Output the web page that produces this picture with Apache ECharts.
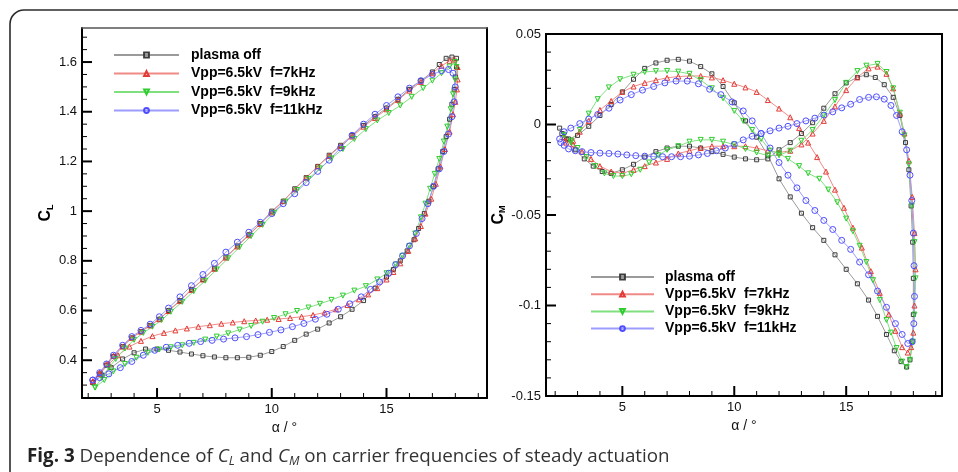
<!DOCTYPE html>
<html>
<head>
<meta charset="utf-8">
<script src="https://cdn.jsdelivr.net/npm/echarts@6/dist/echarts.min.js"></script>
<style>
	html, body { margin: 0; padding: 0; background: #fff; }
	#chart { width: 958px; height: 472px; }
</style>
</head>
<body>
<div id="chart"></div>
<script>
	'use strict';

	var seriesNames = ['plasma off', 'Vpp=6.5kV  f=7kHz', 'Vpp=6.5kV  f=9kHz', 'Vpp=6.5kV  f=11kHz'];

	/* ticks */
	var alphaMajor = [5, 10, 15];
	var alphaMinor = [2, 3, 4, 6, 7, 8, 9, 11, 12, 13, 14, 16, 17, 18, 19];
	var clMajor = [0.4, 0.6, 0.8, 1, 1.2, 1.4, 1.6];
	var clMinor = [0.25, 0.3, 0.35, 0.45, 0.5, 0.55, 0.65, 0.7, 0.75, 0.85, 0.9, 0.95, 1.05, 1.1, 1.15, 1.25, 1.3, 1.35, 1.45, 1.5, 1.55, 1.65, 1.7];
	var cmMajor = [-0.15, -0.1, -0.05, 0, 0.05];
	var cmMinor = [-0.14, -0.13, -0.12, -0.11, -0.09, -0.08, -0.07, -0.06, -0.04, -0.03, -0.02, -0.01, 0.01, 0.02, 0.03, 0.04];

	/* CL loops [alpha, CL] */
	var clOff = [[2.2,0.31],[2.5,0.345],[2.8,0.38],[3.1,0.415],[3.5,0.455],[3.9,0.49],[4.3,0.515],[4.7,0.54],[5.1,0.565],[5.5,0.6],[6.0,0.64],[6.5,0.685],[7.0,0.725],[7.5,0.77],[8.0,0.815],[8.5,0.86],[9.0,0.905],[9.5,0.95],[10.0,1.0],[10.5,1.04],[11.0,1.09],[11.5,1.135],[12.0,1.18],[12.5,1.225],[13.0,1.265],[13.5,1.305],[14.0,1.345],[14.5,1.38],[15.0,1.415],[15.5,1.45],[16.0,1.49],[16.5,1.525],[17.0,1.56],[17.3,1.59],[17.6,1.615],[17.85,1.62],[18.05,1.615],
		[18.05,1.58],[18.0,1.54],[17.95,1.49],[17.85,1.43],[17.75,1.37],[17.6,1.3],[17.45,1.24],[17.25,1.17],[17.05,1.1],[16.85,1.04],[16.65,0.99],[16.4,0.93],[16.2,0.885],[15.9,0.84],[15.6,0.8],[15.3,0.765],[15.0,0.735],[14.5,0.69],[14.0,0.64],[13.5,0.605],[13.0,0.575],[12.5,0.55],[12.0,0.525],[11.5,0.505],[11.0,0.48],[10.5,0.455],[10.0,0.435],[9.5,0.42],[9.0,0.412],[8.5,0.41],[8.0,0.41],[7.5,0.413],[7.0,0.418],[6.5,0.425],[6.0,0.433],[5.5,0.44],[5.0,0.445],[4.5,0.445],[4.0,0.43],[3.5,0.405],[3.0,0.37],[2.6,0.34],[2.2,0.31]];
	var clF7 = [[2.2,0.315],[2.5,0.35],[2.8,0.385],[3.1,0.418],[3.5,0.455],[3.9,0.49],[4.3,0.515],[4.7,0.54],[5.1,0.565],[5.5,0.598],[6.0,0.638],[6.5,0.683],[7.0,0.725],[7.5,0.768],[8.0,0.813],[8.5,0.858],[9.0,0.903],[9.5,0.948],[10.0,0.995],[10.5,1.04],[11.0,1.088],[11.5,1.135],[12.0,1.18],[12.5,1.222],[13.0,1.262],[13.5,1.3],[14.0,1.34],[14.5,1.375],[15.0,1.41],[15.5,1.447],[16.0,1.485],[16.5,1.52],[17.0,1.555],[17.4,1.585],[17.75,1.605],[17.95,1.61],[18.1,1.58],
		[18.1,1.53],[18.07,1.49],[18.0,1.44],[17.9,1.39],[17.75,1.32],[17.55,1.25],[17.35,1.18],[17.15,1.11],[16.95,1.05],[16.7,0.99],[16.5,0.94],[16.25,0.89],[15.95,0.84],[15.6,0.79],[15.3,0.755],[15.0,0.725],[14.6,0.69],[14.2,0.665],[13.8,0.645],[13.3,0.622],[12.8,0.605],[12.3,0.592],[11.8,0.582],[11.3,0.575],[10.8,0.57],[10.3,0.566],[9.8,0.563],[9.3,0.56],[8.8,0.557],[8.3,0.552],[7.8,0.547],[7.3,0.541],[6.8,0.535],[6.3,0.528],[5.8,0.52],[5.3,0.51],[4.8,0.497],[4.3,0.478],[3.8,0.455],[3.3,0.42],[2.9,0.385],[2.5,0.345],[2.2,0.315]];
	var clF9 = [[2.3,0.29],[2.6,0.33],[2.9,0.37],[3.2,0.405],[3.6,0.447],[4.0,0.482],[4.4,0.51],[4.8,0.535],[5.2,0.562],[5.6,0.595],[6.1,0.635],[6.6,0.678],[7.1,0.72],[7.6,0.765],[8.1,0.81],[8.6,0.855],[9.1,0.9],[9.6,0.945],[10.1,0.992],[10.6,1.038],[11.1,1.085],[11.6,1.13],[12.1,1.172],[12.6,1.212],[13.1,1.25],[13.6,1.29],[14.1,1.33],[14.6,1.365],[15.1,1.395],[15.6,1.425],[16.1,1.46],[16.6,1.495],[17.0,1.525],[17.4,1.555],[17.75,1.582],[18.0,1.6],
		[18.05,1.58],[18.0,1.53],[17.9,1.47],[17.8,1.41],[17.65,1.34],[17.5,1.28],[17.3,1.21],[17.1,1.15],[16.9,1.09],[16.7,1.03],[16.5,0.975],[16.25,0.91],[16.0,0.86],[15.7,0.82],[15.4,0.785],[15.0,0.75],[14.6,0.725],[14.1,0.698],[13.6,0.68],[13.1,0.66],[12.6,0.643],[12.1,0.627],[11.6,0.612],[11.1,0.598],[10.6,0.585],[10.1,0.57],[9.6,0.555],[9.1,0.538],[8.6,0.523],[8.1,0.508],[7.6,0.495],[7.1,0.483],[6.6,0.47],[6.1,0.46],[5.6,0.452],[5.1,0.443],[4.6,0.43],[4.1,0.41],[3.6,0.385],[3.1,0.355],[2.7,0.32],[2.3,0.29]];
	var clF11 = [[2.2,0.32],[2.5,0.35],[2.8,0.385],[3.1,0.42],[3.5,0.46],[3.9,0.495],[4.3,0.52],[4.7,0.545],[5.1,0.575],[5.5,0.61],[6.0,0.655],[6.5,0.7],[7.0,0.745],[7.5,0.79],[8.0,0.835],[8.5,0.875],[9.0,0.915],[9.5,0.955],[10.0,0.99],[10.5,1.03],[11.0,1.07],[11.5,1.115],[12.0,1.16],[12.5,1.205],[13.0,1.255],[13.5,1.305],[14.0,1.35],[14.5,1.39],[15.0,1.425],[15.5,1.46],[16.0,1.495],[16.5,1.525],[17.0,1.55],[17.4,1.565],[17.7,1.57],[17.9,1.555],
		[18.0,1.5],[17.95,1.44],[17.85,1.38],[17.7,1.31],[17.5,1.24],[17.3,1.17],[17.05,1.1],[16.8,1.03],[16.55,0.97],[16.3,0.91],[16.0,0.86],[15.7,0.82],[15.4,0.785],[15.1,0.75],[14.7,0.715],[14.3,0.685],[13.9,0.655],[13.4,0.627],[12.9,0.605],[12.4,0.585],[11.9,0.565],[11.4,0.548],[10.9,0.535],[10.4,0.522],[9.9,0.512],[9.4,0.503],[8.9,0.495],[8.4,0.49],[7.9,0.485],[7.4,0.48],[6.9,0.475],[6.4,0.468],[5.9,0.46],[5.4,0.452],[4.9,0.44],[4.4,0.42],[3.9,0.395],[3.4,0.37],[2.9,0.345],[2.5,0.33],[2.2,0.32]];

	/* CM loops [alpha, CM] */
	var cmOff = [[2.2,-0.002],[2.5,-0.008],[2.9,-0.014],[3.3,-0.019],[3.7,-0.023],[4.1,-0.026],[4.5,-0.027],[5.0,-0.025],[5.5,-0.022],[6.0,-0.018],[6.5,-0.015],[7.0,-0.013],[7.5,-0.012],[8.0,-0.012],[8.5,-0.013],[9.0,-0.015],[9.5,-0.0165],[10.0,-0.018],[10.5,-0.019],[11.0,-0.0195],[11.5,-0.019],[12.0,-0.014],[12.5,-0.01],[13.0,-0.005],[13.5,0.001],[14.0,0.009],[14.5,0.017],[15.0,0.023],[15.5,0.026],[15.9,0.0275],[16.3,0.026],[16.7,0.022],[17.1,0.015],[17.4,0.005],[17.65,-0.01],[17.8,-0.025],[17.9,-0.045],[17.97,-0.065],[18.0,-0.085],[18.0,-0.105],[17.95,-0.12],[17.85,-0.13],[17.7,-0.134],
		[17.45,-0.131],[17.15,-0.125],[16.8,-0.116],[16.4,-0.106],[16.0,-0.097],[15.5,-0.088],[15.0,-0.08],[14.5,-0.072],[14.0,-0.064],[13.5,-0.057],[13.0,-0.049],[12.5,-0.04],[12.0,-0.03],[11.5,-0.017],[11.0,-0.007],[10.5,0.002],[10.0,0.012],[9.5,0.021],[9.0,0.028],[8.5,0.032],[8.0,0.035],[7.5,0.036],[7.0,0.0355],[6.5,0.034],[6.0,0.031],[5.5,0.025],[5.0,0.018],[4.5,0.011],[4.0,0.005],[3.5,-0.001],[3.0,-0.006],[2.6,-0.008],[2.3,-0.005]];
	var cmF7 = [[2.4,-0.007],[2.8,-0.011],[3.2,-0.015],[3.6,-0.019],[4.0,-0.023],[4.5,-0.026],[5.0,-0.027],[5.5,-0.025],[6.0,-0.023],[6.5,-0.021],[7.0,-0.019],[7.5,-0.016],[8.0,-0.0145],[8.5,-0.013],[9.0,-0.012],[9.5,-0.012],[10.0,-0.012],[10.5,-0.012],[11.0,-0.013],[11.5,-0.0145],[12.0,-0.0155],[12.5,-0.0145],[13.0,-0.011],[13.5,-0.005],[14.0,0.002],[14.5,0.01],[15.0,0.019],[15.5,0.026],[16.0,0.031],[16.4,0.032],[16.8,0.028],[17.1,0.02],[17.4,0.006],[17.6,-0.005],[17.8,-0.02],[17.95,-0.04],[18.05,-0.06],[18.1,-0.08],[18.05,-0.1],[18.0,-0.115],[17.9,-0.123],[17.75,-0.126],
		[17.5,-0.123],[17.2,-0.114],[16.9,-0.105],[16.5,-0.093],[16.1,-0.081],[15.7,-0.068],[15.3,-0.057],[14.9,-0.046],[14.5,-0.036],[14.1,-0.026],[13.7,-0.018],[13.3,-0.01],[12.9,-0.002],[12.5,0.004],[12.0,0.0088],[11.5,0.0135],[11.0,0.018],[10.5,0.0205],[10.0,0.0225],[9.5,0.0245],[9.0,0.026],[8.5,0.0268],[8.0,0.0268],[7.5,0.0265],[7.0,0.0258],[6.5,0.0245],[6.0,0.023],[5.5,0.021],[5.0,0.018],[4.5,0.013],[4.0,0.008],[3.5,0.002],[3.1,-0.004],[2.8,-0.009],[2.5,-0.01],[2.4,-0.007]];
	var cmF9 = [[2.4,-0.006],[2.7,-0.01],[3.0,-0.013],[3.4,-0.018],[3.8,-0.023],[4.2,-0.027],[4.6,-0.0285],[5.0,-0.0285],[5.4,-0.0275],[5.8,-0.025],[6.2,-0.021],[6.6,-0.017],[7.0,-0.014],[7.5,-0.012],[8.0,-0.0095],[8.5,-0.0085],[9.0,-0.0085],[9.5,-0.0095],[10.0,-0.011],[10.5,-0.0135],[11.0,-0.0155],[11.5,-0.0172],[12.0,-0.017],[12.5,-0.0145],[13.0,-0.009],[13.5,-0.003],[14.0,0.005],[14.5,0.0135],[15.0,0.023],[15.5,0.0295],[15.9,0.0325],[16.4,0.0335],[16.8,0.029],[17.1,0.02],[17.4,0.0065],[17.6,-0.006],[17.8,-0.022],[17.93,-0.045],[18.05,-0.065],[18.1,-0.085],[18.05,-0.105],[17.98,-0.12],[17.85,-0.13],[17.7,-0.134],
		[17.5,-0.131],[17.25,-0.1235],[17.0,-0.115],[16.8,-0.108],[16.5,-0.097],[16.2,-0.086],[15.9,-0.076],[15.6,-0.067],[15.3,-0.059],[15.0,-0.052],[14.6,-0.043],[14.2,-0.036],[13.8,-0.03],[13.3,-0.027],[12.9,-0.023],[12.4,-0.019],[12.0,-0.016],[11.6,-0.0145],[11.2,-0.008],[10.8,-0.003],[10.4,0.002],[10.0,0.0075],[9.5,0.0145],[9.0,0.02],[8.5,0.0245],[8.0,0.028],[7.5,0.0292],[7.0,0.0296],[6.5,0.0295],[6.0,0.029],[5.5,0.0275],[4.9,0.025],[4.4,0.0205],[3.9,0.014],[3.5,0.006],[3.1,-0.003],[2.7,-0.009],[2.4,-0.006]];
	var cmF11 = [[2.2,-0.008],[2.4,-0.004],[2.7,-0.002],[3.1,0.0005],[3.5,0.003],[3.9,0.0055],[4.4,0.009],[4.9,0.0135],[5.4,0.0165],[5.9,0.019],[6.4,0.021],[6.9,0.023],[7.4,0.024],[7.9,0.024],[8.4,0.0225],[8.9,0.0195],[9.4,0.0165],[9.9,0.0125],[10.4,0.0075],[10.8,0.002],[11.2,-0.005],[11.6,-0.013],[12.0,-0.021],[12.4,-0.028],[12.8,-0.035],[13.2,-0.042],[13.6,-0.0475],[14.0,-0.053],[14.4,-0.058],[14.8,-0.064],[15.2,-0.069],[15.6,-0.076],[16.0,-0.083],[16.4,-0.092],[16.8,-0.101],[17.2,-0.11],[17.5,-0.116],[17.75,-0.121],[17.95,-0.12],
		[18.02,-0.11],[18.05,-0.095],[18.03,-0.078],[18.0,-0.06],[17.93,-0.042],[17.85,-0.028],[17.7,-0.014],[17.5,-0.004],[17.25,0.005],[17.0,0.0105],[16.7,0.014],[16.35,0.0153],[16.0,0.015],[15.6,0.0138],[15.2,0.0112],[14.8,0.0092],[14.4,0.007],[14.0,0.0052],[13.6,0.0035],[13.2,0.002],[12.8,0.0005],[12.4,-0.001],[12.0,-0.002],[11.6,-0.0035],[11.2,-0.005],[10.8,-0.0065],[10.4,-0.0085],[10.0,-0.011],[9.6,-0.013],[9.2,-0.0145],[8.8,-0.016],[8.4,-0.0168],[8.0,-0.0175],[7.6,-0.0178],[7.2,-0.0178],[6.8,-0.0178],[6.4,-0.0177],[6.0,-0.0175],[5.6,-0.0172],[5.2,-0.0168],[4.8,-0.0163],[4.4,-0.016],[4.0,-0.0158],[3.6,-0.0155],[3.2,-0.015],[2.9,-0.0145],[2.6,-0.0135],[2.4,-0.0115],[2.25,-0.01]];

	var font = 'Liberation Sans, Arial, sans-serif';
	var styles = [
		{ symbol: 'rect', size: 4, rotate: 0, mark: '#3c3c3c', line: '#9a9a9a' },
		{ symbol: 'triangle', size: 5, rotate: 0, mark: '#e23b35', line: '#f08a86' },
		{ symbol: 'triangle', size: 5, rotate: 180, mark: '#2fcc2f', line: '#80e080' },
		{ symbol: 'circle', size: 6, rotate: 0, mark: '#4d4dff', line: '#9c9cff' }
	];
	var ranges = [
		{ xMin: 1.73, xMax: 19.38, yMin: 0.248, yMax: 1.737, yMajor: clMajor, yMinor: clMinor },
		{ xMin: 1.59, xMax: 19.28, yMin: -0.15, yMax: 0.05, yMajor: cmMajor, yMinor: cmMinor }
	];

	function mainAxis(grid, pos, min, max, labels) {
		return {
			type: 'value', gridIndex: grid, position: pos, min: min, max: max,
			axisLine: { show: true, onZero: false, lineStyle: { color: '#000', width: 2 } },
			axisTick: { show: false },
			axisLabel: { customValues: labels.slice(), fontFamily: font, fontSize: 13, color: '#111', margin: 5 },
			splitLine: { show: false },
			nameLocation: 'middle'
		};
	}

	// top and right edges of each box
	function edgeAxis(grid, pos, color, width) {
		return {
			type: 'value', gridIndex: grid, position: pos, min: 0, max: 1,
			axisLine: { show: true, onZero: false, lineStyle: { color: color, width: width } },
			axisTick: { show: false }, axisLabel: { show: false }, splitLine: { show: false }
		};
	}

	var xAxes = [
		mainAxis(0, 'bottom', ranges[0].xMin, ranges[0].xMax, alphaMajor),
		mainAxis(1, 'bottom', ranges[1].xMin, ranges[1].xMax, alphaMajor),
		edgeAxis(2, 'top', '#555', 1.5),
		edgeAxis(3, 'top', '#000', 2)
	];
	var yAxes = [
		mainAxis(0, 'left', ranges[0].yMin, ranges[0].yMax, clMajor),
		mainAxis(1, 'left', ranges[1].yMin, ranges[1].yMax, cmMajor),
		edgeAxis(2, 'right', '#000', 2),
		edgeAxis(3, 'right', '#000', 2)
	];
	Object.assign(xAxes[0], { name: 'α / °', nameGap: 20, nameTextStyle: { fontFamily: font, fontSize: 14, color: '#111' } });
	Object.assign(xAxes[1], { name: 'α / °', nameGap: 20, nameTextStyle: { fontFamily: font, fontSize: 14, color: '#111' } });
	function nameRich() {
		return {
			c: { fontFamily: font, fontSize: 16, fontWeight: 'bold', color: '#000', lineHeight: 18 },
			s: { fontFamily: font, fontSize: 9, fontWeight: 'bold', color: '#000', lineHeight: 9, verticalAlign: 'bottom' }
		};
	}
	Object.assign(yAxes[0], { name: '{c|C}{s|L}', nameGap: 27, nameTextStyle: { rich: nameRich() } });
	Object.assign(yAxes[1], { name: '{c|C}{s|M}', nameGap: 38, nameTextStyle: { rich: nameRich() } });

	function curve(i, data, axis) {
		var s = styles[i];
		return {
			name: seriesNames[i], type: 'line', data: data,
			xAxisIndex: axis, yAxisIndex: axis,
			symbol: s.symbol, symbolSize: s.size, symbolRotate: s.rotate,
			lineStyle: { color: s.line, width: 1 },
			itemStyle: { color: 'rgba(255,255,255,0)', borderColor: s.mark, borderWidth: 1 },
			emphasis: { disabled: true },
			animation: false
		};
	}

	var leftBox = { left: 82, top: 28, width: 405, height: 370 };
	var rightBox = { left: 546, top: 34, width: 396, height: 362 };

	var baseGraphic = [
		{ id: 'frame', type: 'rect', silent: true, shape: { x: 10, y: 10, width: 1000, height: 520, r: 14 }, style: { fill: 'none', stroke: '#2b2b2b', lineWidth: 1.6 } },
		{ id: 'caption', type: 'text', silent: true, x: 27, y: 457, style: {
			text: '{b|Fig. 3} Dependence of {i|C}{s|L} and {i|C}{s|M} on carrier frequencies of steady actuation',
			fontFamily: 'Open Sans', fontSize: 18.8, fill: '#333', verticalAlign: 'middle',
			rich: {
				b: { fontFamily: 'Open Sans', fontSize: 18.8, fontWeight: 'bold', fill: '#222', lineHeight: 22 },
				i: { fontFamily: 'Open Sans', fontSize: 18.8, fontStyle: 'italic', fill: '#333', lineHeight: 22 },
				s: { fontFamily: 'Open Sans', fontSize: 12.5, fontStyle: 'italic', fill: '#333', lineHeight: 10, verticalAlign: 'bottom' }
			}
		} }
	];

	var option = {
		animation: false,
		grid: [
			Object.assign({}, leftBox), Object.assign({}, rightBox),
			Object.assign({}, leftBox), Object.assign({}, rightBox)
		],
		xAxis: xAxes,
		yAxis: yAxes,
		legend: [
			{ data: seriesNames, orient: 'vertical', left: 113, top: 47, padding: 0, itemWidth: 65, itemHeight: 6, itemGap: 2.5, selectedMode: false,
				textStyle: { fontFamily: font, fontWeight: 'bold', fontSize: 14, color: '#000', lineHeight: 16, padding: [0, 0, 0, 7] } },
			{ data: seriesNames, orient: 'vertical', left: 590, top: 269, padding: 0, itemWidth: 63, itemHeight: 6, itemGap: 1.2, selectedMode: false,
				textStyle: { fontFamily: font, fontWeight: 'bold', fontSize: 14, color: '#000', lineHeight: 16, padding: [0, 0, 0, 6] } }
		],
		graphic: baseGraphic,
		series: [
			curve(0, clOff, 0), curve(1, clF7, 0), curve(2, clF9, 0), curve(3, clF11, 0),
			curve(0, cmOff, 1), curve(1, cmF7, 1), curve(2, cmF9, 1), curve(3, cmF11, 1)
		]
	};

	var chart = echarts.init(document.getElementById('chart'));
	chart.setOption(option);

	/* inward ticks, placed through each grid's own scales */
	var tickMarks = [];
	function tick(p, dx, dy, width) {
		tickMarks.push({
			id: 'tick' + tickMarks.length, type: 'line', silent: true, z: 5,
			shape: { x1: p[0], y1: p[1], x2: p[0] + dx, y2: p[1] + dy },
			style: { stroke: '#000', lineWidth: width }
		});
	}
	ranges.forEach(function (r, g) {
		alphaMajor.forEach(function (a) { tick(chart.convertToPixel({ gridIndex: g }, [a, r.yMin]), 0, -10, 2); });
		alphaMinor.forEach(function (a) { if (a < r.xMax) tick(chart.convertToPixel({ gridIndex: g }, [a, r.yMin]), 0, -5, 1); });
		r.yMajor.forEach(function (v) { tick(chart.convertToPixel({ gridIndex: g }, [r.xMin, v]), 10, 0, 2); });
		r.yMinor.forEach(function (v) { tick(chart.convertToPixel({ gridIndex: g }, [r.xMin, v]), 5, 0, 1); });
	});
	chart.setOption({ graphic: baseGraphic.concat(tickMarks) });
</script>
</body>
</html>
